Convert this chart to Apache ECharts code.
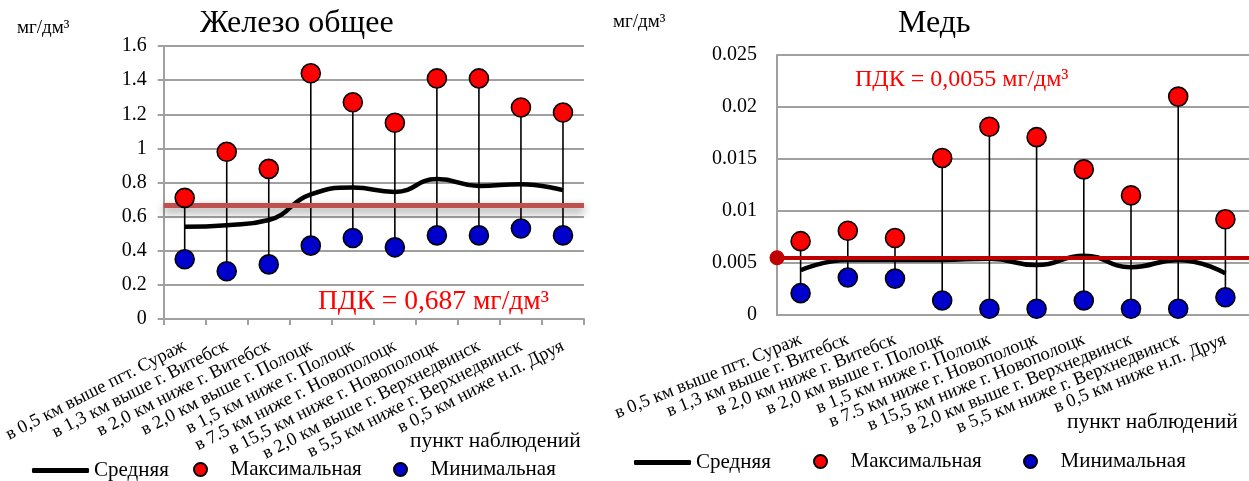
<!DOCTYPE html>
<html><head><meta charset="utf-8">
<script src="https://cdn.jsdelivr.net/npm/echarts@6/dist/echarts.min.js"></script>
<style>html,body{margin:0;padding:0;background:#fff}#c{width:1249px;height:481px}</style>
</head><body><div id="c"></div>
<script>
const categories = [
  'в 0,5 км выше пгт. Сураж',
  'в 1,3 км выше г. Витебск',
  'в 2,0 км ниже г. Витебск',
  'в 2,0 км выше г. Полоцк',
  'в 1,5 км ниже г. Полоцк',
  'в 7.5 км ниже г. Новополоцк',
  'в 15,5 км ниже г. Новополоцк',
  'в 2,0 км выше г. Верхнедвинск',
  'в 5,5 км ниже г. Верхнедвинск',
  'в 0,5 км ниже н.п. Друя'
];
const feMean = [0.54, 0.55, 0.58, 0.73, 0.77, 0.745, 0.82, 0.78, 0.79, 0.755];
const feMax  = [0.71, 0.98, 0.88, 1.44, 1.27, 1.15, 1.41, 1.41, 1.24, 1.21];
const feMin  = [0.35, 0.28, 0.32, 0.43, 0.475, 0.42, 0.49, 0.49, 0.53, 0.49];
const fePdkLine = 0.665;
const fePdkText = 'ПДК = 0,687 мг/дм³';
const feTicks = {min: 0, max: 1.6, interval: 0.2};

const cuMean = [0.0043, 0.0053, 0.0053, 0.0053, 0.0054, 0.0048, 0.0057, 0.0046, 0.0053, 0.0040];
const cuMax  = [0.0071, 0.0081, 0.0074, 0.0151, 0.0181, 0.0171, 0.0140, 0.0115, 0.0210, 0.0092];
const cuMin  = [0.0021, 0.0036, 0.0035, 0.0014, 0.0006, 0.0006, 0.0014, 0.0006, 0.0006, 0.0017];
const cuPdkLine = 0.0055;
const cuPdkText = 'ПДК = 0,0055 мг/дм³';
const cuTicks = {min: 0, max: 0.025, interval: 0.005};

const FONT = '"Liberation Serif", "Times New Roman", serif';
const GRID_C = '#a0a0a0';

function stemData(mn, mx){ return mn.map((v,i)=>[i, v, mx[i]]); }
function stemSeries(idx, mn, mx){
  return {
    type:'custom', xAxisIndex:idx, yAxisIndex:idx, z:2, silent:true,
    encode:{x:0, y:[1,2]},
    data: stemData(mn, mx),
    renderItem:function(params, api){
      const a = api.coord([api.value(0), api.value(1)]);
      const b = api.coord([api.value(0), api.value(2)]);
      return {type:'line', shape:{x1:a[0],y1:a[1],x2:b[0],y2:b[1]}, style:{stroke:'#000', lineWidth:1.6}};
    }
  };
}
function meanSeries(idx, d){
  return {name:'Средняя', type:'line', xAxisIndex:idx, yAxisIndex:idx, z:3, data:d, smooth:0.5,
    showSymbol:false, symbol:'none', lineStyle:{color:'#000', width:4.5}, itemStyle:{color:'#000'}};
}
function dotSeries(idx, name, d, color){
  return {name:name, type:'scatter', xAxisIndex:idx, yAxisIndex:idx, z:6, data:d, symbolSize:19,
    itemStyle:{color:color, borderColor:'#000', borderWidth:1.6, opacity:1}};
}
const legendText = {fontSize:21, color:'#000', fontFamily:FONT};

const option = {
  animation:false,
  textStyle:{fontFamily:FONT},
  grid:[
    {left:163, top:46, width:421, height:273},
    {left:777, top:55, width:478, height:260}
  ],
  xAxis:[
    {type:'category', gridIndex:0, data:categories, boundaryGap:true,
     axisLine:{show:true, lineStyle:{color:GRID_C, width:2}},
     axisTick:{show:true, length:6, lineStyle:{color:GRID_C, width:2}},
     axisLabel:{interval:0, rotate:27, margin:26, fontSize:18.5, color:'#000', fontFamily:FONT},
     splitLine:{show:false}},
    {type:'category', gridIndex:1, data:categories, boundaryGap:true,
     axisLine:{show:true, lineStyle:{color:GRID_C, width:2}},
     axisTick:{show:false},
     axisLabel:{interval:0, rotate:22, margin:24, fontSize:18.5, color:'#000', fontFamily:FONT},
     splitLine:{show:false}}
  ],
  yAxis:[
    {type:'value', gridIndex:0, min:feTicks.min, max:feTicks.max, interval:feTicks.interval,
     axisLine:{show:true, lineStyle:{color:GRID_C, width:2}},
     axisTick:{show:true, length:6, lineStyle:{color:GRID_C, width:2}},
     axisLabel:{fontSize:20, color:'#000', margin:17, fontFamily:FONT},
     splitLine:{show:true, lineStyle:{color:GRID_C, width:2}}},
    {type:'value', gridIndex:1, min:cuTicks.min, max:cuTicks.max, interval:cuTicks.interval,
     axisLine:{show:true, lineStyle:{color:GRID_C, width:2}},
     axisTick:{show:false},
     axisLabel:{fontSize:20, color:'#000', margin:20, fontFamily:FONT},
     splitLine:{show:true, lineStyle:{color:GRID_C, width:2}}}
  ],
  legend:[
    {left:27, top:455, data:['Средняя'], icon:'roundRect', itemWidth:57, itemHeight:5, itemGap:5,
     textStyle:legendText, selectedMode:false},
    {left:188, top:454, data:['Максимальная'], icon:'circle', itemWidth:50, itemHeight:13,
     textStyle:legendText, selectedMode:false},
    {left:388, top:454, data:['Минимальная'], icon:'circle', itemWidth:50, itemHeight:13,
     textStyle:legendText, selectedMode:false},
    {left:629, top:447, data:['Средняя'], icon:'roundRect', itemWidth:57, itemHeight:5,
     textStyle:legendText, selectedMode:false},
    {left:808, top:446, data:['Максимальная'], icon:'circle', itemWidth:50, itemHeight:13,
     textStyle:legendText, selectedMode:false},
    {left:1018, top:446, data:['Минимальная'], icon:'circle', itemWidth:50, itemHeight:13,
     textStyle:legendText, selectedMode:false}
  ],
  series:[
    stemSeries(0, feMin, feMax),
    meanSeries(0, feMean),
    {type:'line', xAxisIndex:0, yAxisIndex:0, z:4, data:[], silent:true,
     markLine:{silent:true, precision:6, symbol:['none','none'], label:{show:false},
       lineStyle:{color:'#C0504D', width:5, type:'solid', shadowColor:'rgba(0,0,0,0.45)', shadowBlur:8, shadowOffsetY:4},
       data:[{yAxis:fePdkLine}]}},
    dotSeries(0, 'Максимальная', feMax, '#ff0000'),
    dotSeries(0, 'Минимальная', feMin, '#0000cc'),

    stemSeries(1, cuMin, cuMax),
    meanSeries(1, cuMean),
    {type:'line', xAxisIndex:1, yAxisIndex:1, z:4, data:[], silent:true,
     markLine:{silent:true, precision:6, symbol:['circle','none'], symbolSize:[15,15], label:{show:false},
       itemStyle:{color:'#C00000'},
       lineStyle:{color:'#C00000', width:4, type:'solid'},
       data:[{yAxis:cuPdkLine}]}},
    dotSeries(1, 'Максимальная', cuMax, '#ff0000'),
    dotSeries(1, 'Минимальная', cuMin, '#0000cc')
  ],
  graphic:[
    {type:'text', left:17, top:19, style:{text:'мг/дм³', font:'19px "Liberation Serif"', fill:'#000'}},
    {type:'text', left:200, top:8, style:{text:'Железо общее', font:'32px "Liberation Serif"', fill:'#000'}},
    {type:'text', left:318, top:288, z:10, style:{text:fePdkText, font:'27.5px "Liberation Serif"', fill:'#ff0000'}},
    {type:'text', left:410, top:430, style:{text:'пункт наблюдений', font:'21.5px "Liberation Serif"', fill:'#000'}},
    {type:'text', left:613, top:13, style:{text:'мг/дм³', font:'19px "Liberation Serif"', fill:'#000'}},
    {type:'text', left:898, top:8, style:{text:'Медь', font:'32px "Liberation Serif"', fill:'#000'}},
    {type:'text', left:855, top:68, z:10, style:{text:cuPdkText, font:'24px "Liberation Serif"', fill:'#ff0000'}},
    {type:'text', left:1067, top:411, style:{text:'пункт наблюдений', font:'21.5px "Liberation Serif"', fill:'#000'}}
  ]
};
const chart = echarts.init(document.getElementById('c'));
chart.setOption(option);
</script></body></html>
